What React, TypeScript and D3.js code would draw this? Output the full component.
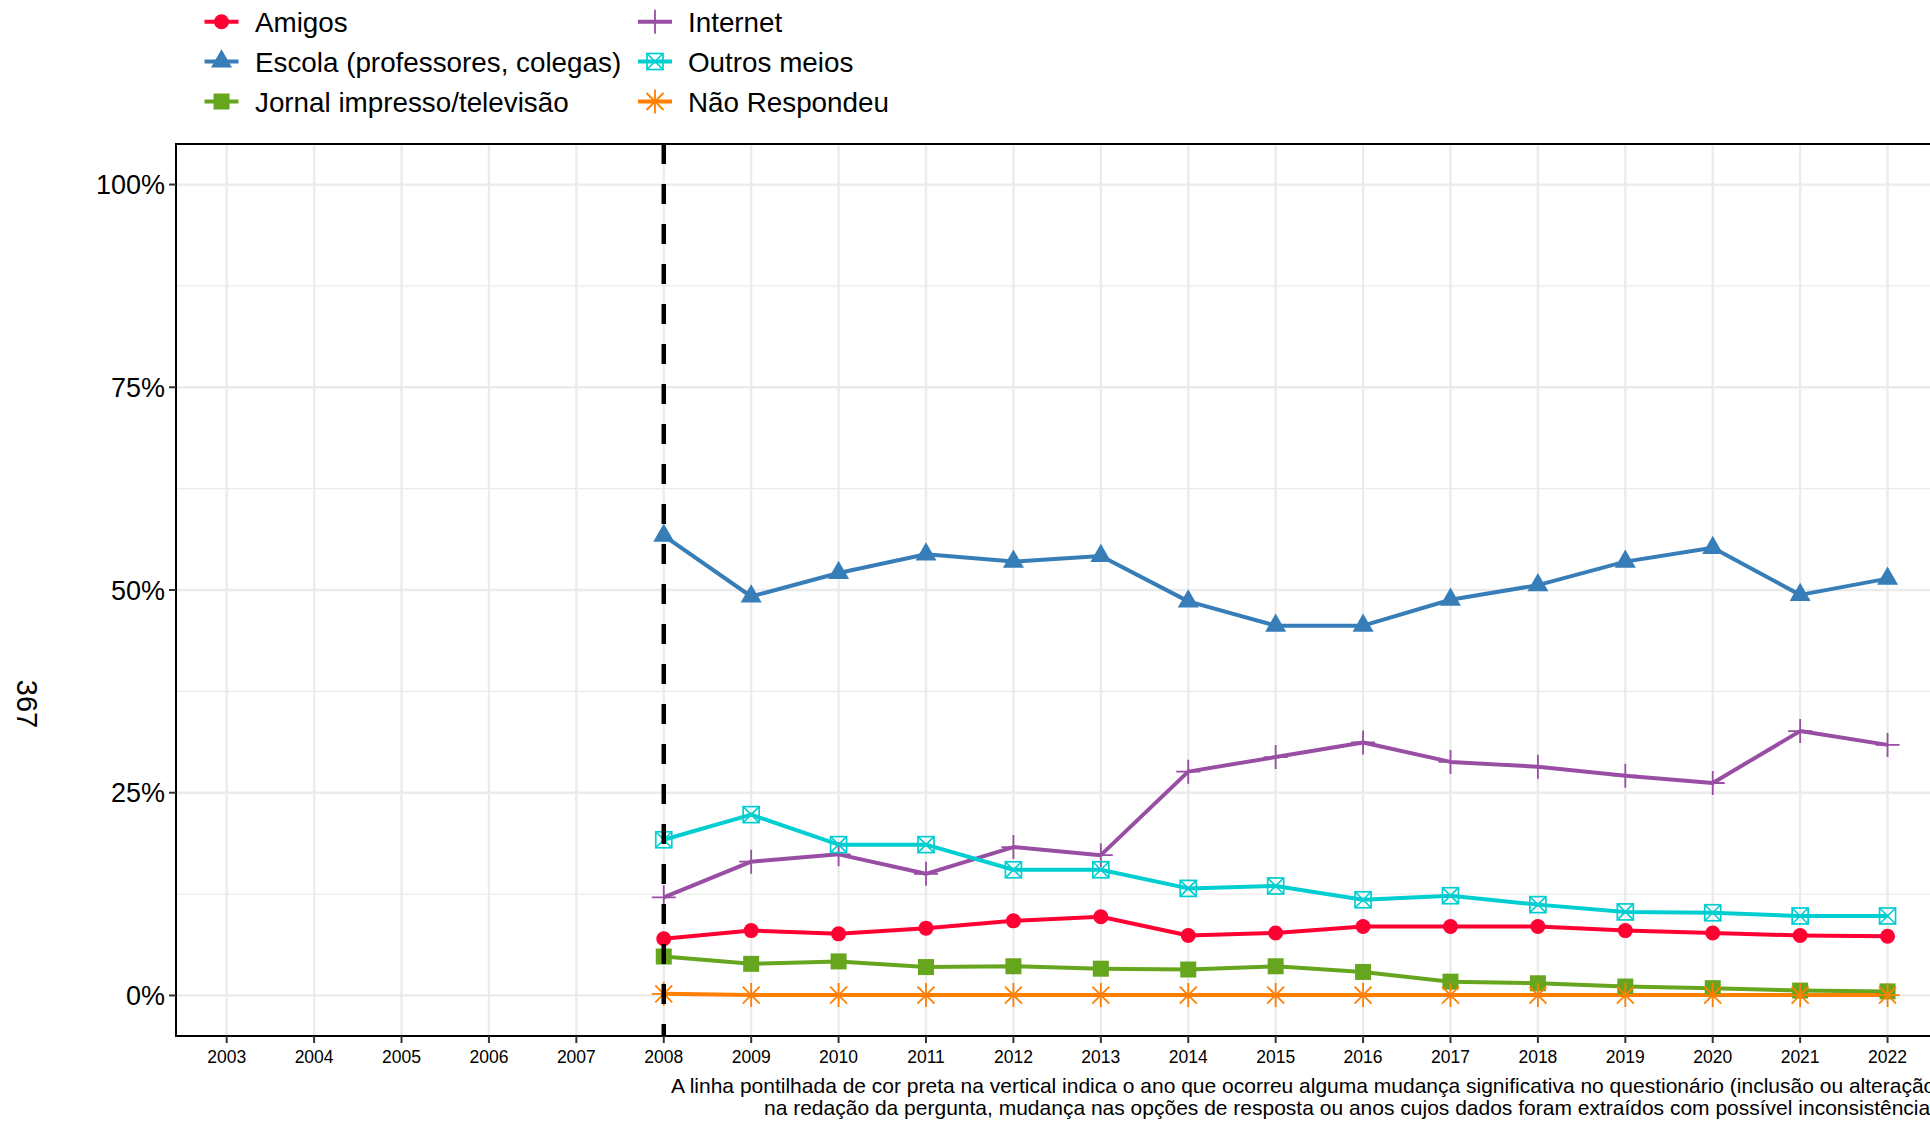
import React from 'react';
import * as d3 from 'd3';

// years on the x axis (panel spans 2003..2022, data starts in 2008)
const axisYears = d3.range(2003, 2023);
const dataYears = [2008, 2009, 2010, 2011, 2012, 2013, 2014, 2015, 2016, 2017, 2018, 2019, 2020, 2021, 2022];

// shares (0..1)
const amigos = [0.070, 0.080, 0.076, 0.083, 0.092, 0.097, 0.074, 0.077, 0.085, 0.085, 0.085, 0.080, 0.077, 0.074, 0.073];
const escola = [0.567, 0.492, 0.521, 0.544, 0.535, 0.542, 0.486, 0.456, 0.456, 0.488, 0.506, 0.535, 0.552, 0.494, 0.514];
const jornal = [0.048, 0.039, 0.042, 0.035, 0.036, 0.033, 0.032, 0.036, 0.029, 0.017, 0.015, 0.011, 0.009, 0.006, 0.005];
const internet = [0.121, 0.165, 0.174, 0.150, 0.183, 0.173, 0.276, 0.294, 0.312, 0.288, 0.282, 0.271, 0.262, 0.326, 0.309];
const outros = [0.192, 0.223, 0.186, 0.186, 0.155, 0.155, 0.132, 0.135, 0.118, 0.123, 0.112, 0.103, 0.102, 0.098, 0.098];
const naoRespondeu = [0.002, 0.0005, 0.0005, 0.0005, 0.0005, 0.0005, 0.0005, 0.0005, 0.0005, 0.0005, 0.0005, 0.0005, 0.0005, 0.0005, 0.0005];

const seriesNames = ['Amigos', 'Escola (professores, colegas)', 'Jornal impresso/televisão', 'Internet', 'Outros meios', 'Não Respondeu'];
const seriesColors = ['#FF0033', '#377EB8', '#66A61E', '#984EA3', '#00CED1', '#FF7F00'];
const seriesShapes = ['circle', 'triangle', 'square', 'plus', 'boxx', 'asterisk'];
const seriesValues = [amigos, escola, jornal, internet, outros, naoRespondeu];

const yTicks = [0, 0.25, 0.5, 0.75, 1];
const yMinor = [0.125, 0.375, 0.625, 0.875];
const changeYear = 2008;

const captionLines = [
    'A linha pontilhada de cor preta na vertical indica o ano que ocorreu alguma mudança significativa no questionário (inclusão ou alteração',
    'na redação da pergunta, mudança nas opções de resposta ou anos cujos dados foram extraídos com possível inconsistência)',
];

const W = 1930;
const H = 1121;
const panel = { left: 176, right: 1940, top: 144, bottom: 1036 };
const FONT = '"Liberation Sans", Arial, Helvetica, sans-serif';

const Marker: React.FC<{ shape: string; color: string; x: number; y: number }> = ({ shape, color, x, y }) => {
    const t = `translate(${x},${y})`;
    switch (shape) {
        case 'circle':
            return <circle cx={x} cy={y} r={7.5} fill={color} />;
        case 'triangle': {
            const s = 7.8;
            const p = `M0,${-1.555 * s}L${1.347 * s},${0.778 * s}L${-1.347 * s},${0.778 * s}Z`;
            return <path transform={t} d={p} fill={color} />;
        }
        case 'square':
            return <rect x={x - 8} y={y - 8} width={16} height={16} fill={color} />;
        case 'plus':
            return <path transform={t} d="M-12,0H12M0,-12V12" stroke={color} strokeWidth={1.8} fill="none" />;
        case 'boxx':
            return (
                <g transform={t} stroke={color} strokeWidth={1.7} fill="none">
                    <rect x={-8} y={-8} width={16} height={16} />
                    <path d="M-8,-8L8,8M-8,8L8,-8" />
                </g>
            );
        case 'asterisk':
            return <path transform={t} d="M-12,0H12M0,-12V12M-8.5,-8.5L8.5,8.5M-8.5,8.5L8.5,-8.5" stroke={color} strokeWidth={1.8} fill="none" />;
        default:
            return null;
    }
};

export default function App() {
    const x = d3.scaleLinear().domain([2002.42, 2022.6]).range([panel.left, panel.right]);
    const y = d3.scaleLinear().domain([-0.05, 1.05]).range([panel.bottom, panel.top]);
    const fmt = d3.format('.0%');

    const line = d3.line<number>()
        .x((_, i) => x(dataYears[i]))
        .y(d => y(d));

    // legend: two columns, three rows
    const legendRows = [21.7, 61.5, 101.5];
    const legendCols = [{ key: 221.5, text: 255 }, { key: 655, text: 688 }];

    return (
        <svg width={W} height={H} style={{ position: 'fixed', left: 0, top: 0, background: '#fff' }}
            fontFamily={FONT}>
            <rect width={W} height={H} fill="#fff" />

            {/* grid */}
            <g>
                {yMinor.map(v => (
                    <line key={'mn' + v} x1={panel.left} x2={panel.right} y1={y(v)} y2={y(v)} stroke="#EBEBEB" strokeWidth={1.2} />
                ))}
                {yTicks.map(v => (
                    <line key={'mj' + v} x1={panel.left} x2={panel.right} y1={y(v)} y2={y(v)} stroke="#EBEBEB" strokeWidth={2.3} />
                ))}
                {axisYears.map(yr => (
                    <line key={'gx' + yr} x1={x(yr)} x2={x(yr)} y1={panel.top} y2={panel.bottom} stroke="#EBEBEB" strokeWidth={2.3} />
                ))}
            </g>

            {/* series lines */}
            {seriesValues.map((vals, i) => (
                <path key={'l' + i} d={line(vals) || ''} fill="none" stroke={seriesColors[i]} strokeWidth={4} strokeLinejoin="round" />
            ))}

            {/* series points */}
            {seriesValues.map((vals, i) => (
                <g key={'p' + i}>
                    {vals.map((v, j) => (
                        <Marker key={j} shape={seriesShapes[i]} color={seriesColors[i]} x={x(dataYears[j])} y={y(v)} />
                    ))}
                </g>
            ))}

            {/* questionnaire change marker */}
            <line x1={x(changeYear)} x2={x(changeYear)} y1={panel.top} y2={panel.bottom}
                stroke="#000" strokeWidth={4.5} strokeDasharray="20 20" />

            {/* panel border */}
            <rect x={panel.left} y={panel.top} width={panel.right - panel.left} height={panel.bottom - panel.top}
                fill="none" stroke="#000" strokeWidth={2} />

            {/* y axis */}
            {yTicks.map(v => (
                <g key={'yt' + v}>
                    <line x1={panel.left - 7} x2={panel.left} y1={y(v)} y2={y(v)} stroke="#333" strokeWidth={2} />
                    <text x={165} y={y(v)} dy="0.36em" textAnchor="end" fontSize={27} fill="#000">{fmt(v)}</text>
                </g>
            ))}

            {/* x axis */}
            {axisYears.map(yr => (
                <g key={'xt' + yr}>
                    <line x1={x(yr)} x2={x(yr)} y1={panel.bottom} y2={panel.bottom + 7} stroke="#333" strokeWidth={2} />
                    <text x={x(yr)} y={1062.5} textAnchor="middle" fontSize={17.5} fill="#000">{yr}</text>
                </g>
            ))}

            {/* rotated side label */}
            <text transform="translate(17,704) rotate(90)" textAnchor="middle" fontSize={29} fill="#000">367</text>

            {/* legend */}
            {seriesNames.map((name, i) => {
                const col = legendCols[Math.floor(i / 3)];
                const ry = legendRows[i % 3];
                return (
                    <g key={'lg' + i}>
                        <line x1={col.key - 17} x2={col.key + 17} y1={ry} y2={ry} stroke={seriesColors[i]} strokeWidth={4} />
                        <Marker shape={seriesShapes[i]} color={seriesColors[i]} x={col.key} y={ry} />
                        <text x={col.text} y={ry} dy="0.36em" fontSize={27.8} fill="#000">{name}</text>
                    </g>
                );
            })}

            {/* caption */}
            <text x={671} y={1093} fontSize={21} fill="#000">{captionLines[0]}</text>
            <text x={764} y={1114.5} fontSize={21} fill="#000">{captionLines[1]}</text>
        </svg>
    );
}
